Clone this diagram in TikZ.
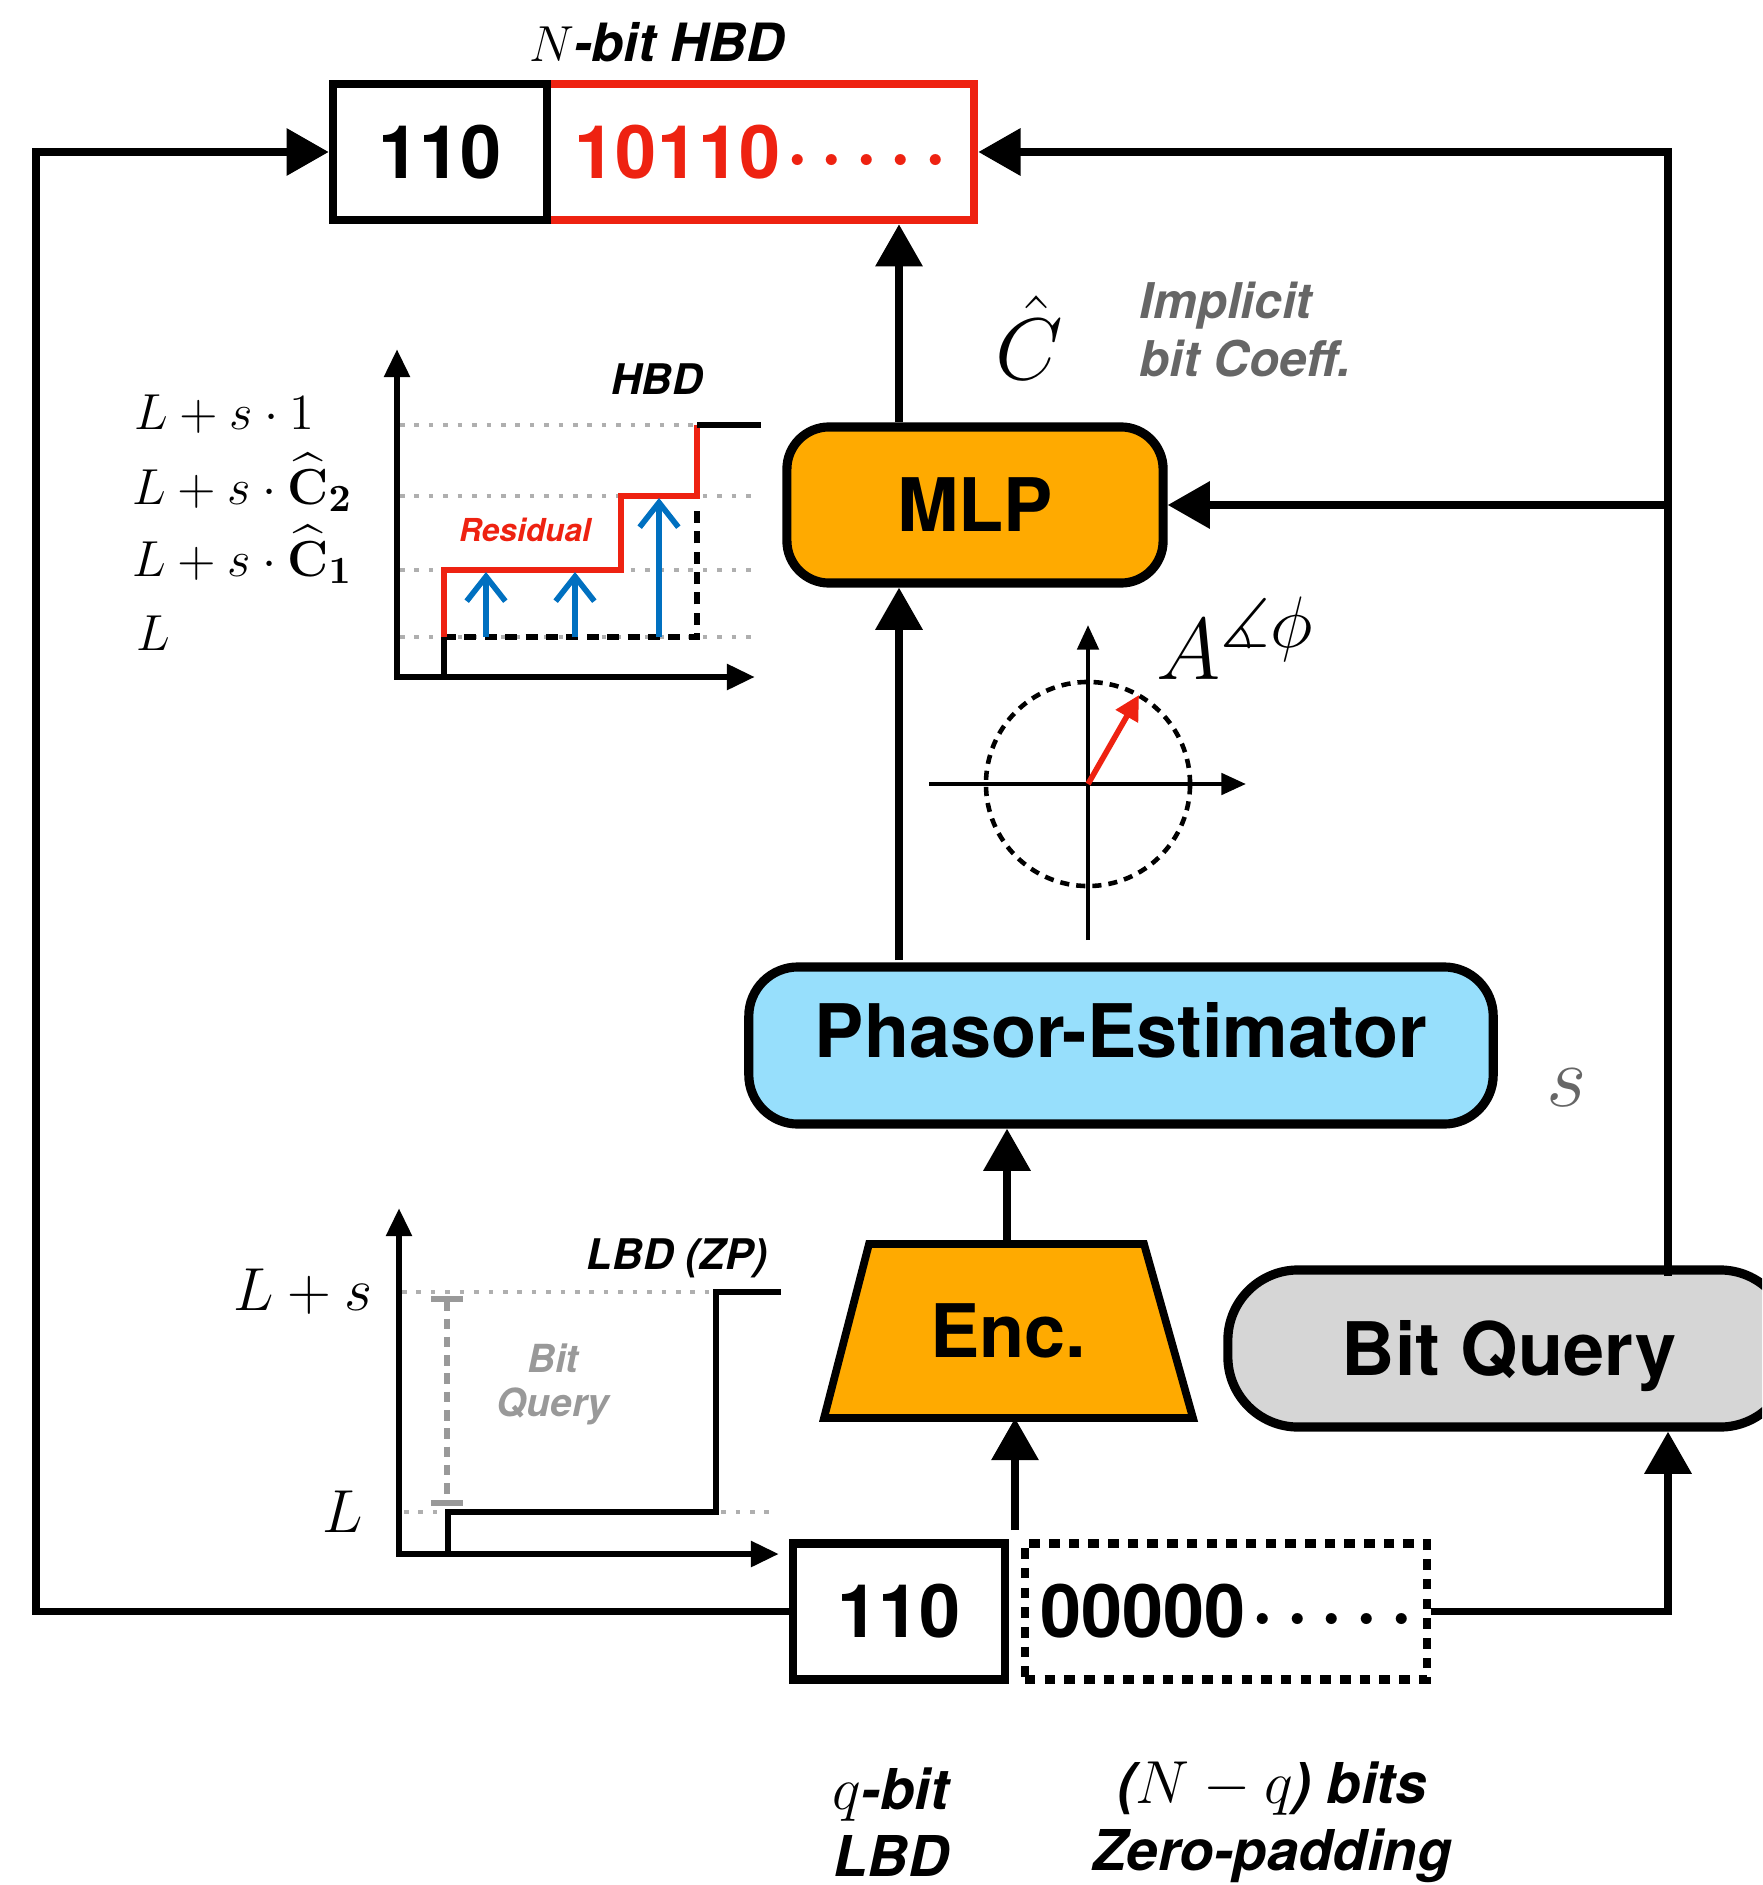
\documentclass[tikz,border=0pt]{standalone}
\usepackage{amsmath,amssymb}
\usepackage[no-math]{fontspec}
\setmainfont{TeX Gyre Heros}
\usetikzlibrary{arrows.meta,calc}

\definecolor{encorange}{RGB}{255,170,0}
\definecolor{phasorblue}{RGB}{151,223,252}
\definecolor{querygray}{RGB}{214,214,214}
\definecolor{hbdred}{RGB}{238,34,17}
\definecolor{stepblue}{RGB}{0,112,192}
\definecolor{labelgray}{RGB}{102,102,102}
\definecolor{lightlabel}{RGB}{153,153,153}
\definecolor{gridgray}{RGB}{175,175,175}

\newcommand{\bitdots}{\kern2pt\textperiodcentered\kern4pt\textperiodcentered\kern4pt\textperiodcentered\kern4pt\textperiodcentered\kern4pt\textperiodcentered}

\tikzset{
  flow/.style={line width=2.2pt, -{Triangle[length=12pt,width=13pt]}},
  axis/.style={line width=1.9pt, {Triangle[length=8pt,width=7pt]}-{Triangle[length=8pt,width=7pt]}},
  gridline/.style={gridgray, line width=1.2pt, dash pattern=on 1.3pt off 2.8pt},
  bitbox/.style={draw, line width=2.4pt, minimum height=1.36cm, inner sep=0pt,
    font=\fontsize{21}{25}\selectfont\bfseries},
  padbox/.style={bitbox, dash pattern=on 3pt off 2.6pt},
  blocktext/.style={font=\fontsize{21}{25}\selectfont\bfseries},
  mlpbox/.style={blocktext, draw, line width=2.6pt, fill=encorange, rounded corners=12pt,
    minimum width=3.76cm, minimum height=1.56cm},
  phasorbox/.style={blocktext, draw, line width=2.6pt, fill=phasorblue, rounded corners=14pt,
    minimum width=7.44cm, minimum height=1.57cm, text depth=9pt},
  querybox/.style={blocktext, draw, line width=2.6pt, fill=querygray, rounded corners=20pt,
    minimum width=5.62cm, minimum height=1.57cm, text height=20pt, text depth=4.4pt},
  encbox/.style={draw, line width=2.2pt, fill=encorange, line join=miter},
  stepdash/.style={line width=1.9pt, dash pattern=on 3.4pt off 2.4pt},
  residual/.style={stepblue, line width=1.6pt, -{Straight Barb[length=7pt,width=11pt]}},
  querybar/.style={lightlabel, line width=1.6pt, dash pattern=on 3pt off 2.2pt,
    {Bar[width=9pt]}-{Bar[width=9pt]}},
  plotlabel/.style={font=\fontsize{12}{14}\selectfont\bfseries\itshape},
  mathlabel/.style={font=\fontsize{15}{18}\selectfont, anchor=base west, inner sep=0pt}
}

\begin{document}
\begin{tikzpicture}[x=0.01cm, y=-0.01cm]
  \useasboundingbox (0,0) rectangle (1762,1885);
  \clip (0,0) rectangle (1762,1885);

  % Columns used by the connectors
  \coordinate (lft) at (36,0);
  \coordinate (col) at (899,0);
  \coordinate (rgt) at (1668,0);

  % N-bit HBD output
  \node[bitbox, draw=hbdred, text=hbdred, minimum width=4.27cm] (hbdr) at (760.5,152) {10110\bitdots};
  \node[bitbox, minimum width=2.14cm] (hbdq) at (440,152) {110};
  \node[font=\fontsize{15}{18}\selectfont\bfseries\itshape] (ntitle) at (657,42) {\(N\)-bit HBD};

  % Blocks
  \node[mlpbox] (mlp) at (975,505) {MLP};
  \node[phasorbox] (phasor) at (1121,1045.5) {Phasor-Estimator};
  \node[querybox] (bitq) at (1509,1348.5) {Bit Query};
  \draw[encbox] (869,1244) -- (1144,1244) -- (1193,1418) -- (824,1418) -- cycle;
  \node[blocktext] (enc) at (1008,1331) {Enc.};
  \coordinate (enctop) at (1007,1244);
  \coordinate (encbot) at (1015,1418);

  % q-bit LBD and zero padding
  \node[bitbox, minimum width=2.12cm] (lbdq) at (899,1611.5) {110};
  \node[padbox, minimum width=4.02cm] (zpad) at (1226,1611.5) {00000\bitdots};

  % Connectors
  \coordinate (qtop) at (1668,1276);
  \coordinate (phtop) at (899,960);
  \coordinate (jn) at (1015,1530);
  \draw[flow] (lbdq.west) -- (lbdq.west -| lft) |- (hbdq.west);
  \draw[flow] (zpad.east) -| (rgt |- bitq.south);
  \draw[flow] (qtop) |- (hbdr.east);
  \draw[flow] (rgt |- mlp.east) -- (mlp.east);
  \draw[flow] (col |- mlp.north) -- (col |- hbdr.south);
  \draw[flow] (phtop) -- (col |- mlp.south);
  \draw[flow] (enctop) -- (enctop |- phasor.south);
  \draw[flow] (jn) -- (encbot);

  % Labels around the blocks
  \node[font=\fontsize{30}{32}\selectfont, anchor=base, inner sep=0pt] (chat) at (1029,379) {\(\hat{C}\)};
  \node[font=\fontsize{14}{16.5}\selectfont\bfseries\itshape, text=labelgray, align=left, anchor=west, inner sep=0pt] (coeff) at (1139,330) {Implicit\\bit Coeff.};
  \node[font=\fontsize{30}{32}\selectfont, text=labelgray, anchor=base] (sgain) at (1567,1106) {\(s\)};
  \node[font=\fontsize{16}{19}\selectfont\bfseries\itshape, align=center] (qlbl) at (891,1822) {\(q\)-bit\\LBD};
  \node[font=\fontsize{16}{19}\selectfont\bfseries\itshape, align=center] (zlbl) at (1272,1822) {(\(N-q\)) bits\\Zero-padding};

  % Phasor
  \coordinate (pc) at (1088,784);
  \draw[line width=1.3pt, dash pattern=on 2.6pt off 2pt] (pc) circle [radius=1.02cm];
  \draw[line width=1.3pt, -{Triangle[length=7pt,width=6pt]}] (929,784) -- (1246,784);
  \draw[line width=1.3pt, -{Triangle[length=7pt,width=6pt]}] (1088,940) -- (1088,625);
  \draw[hbdred, line width=1.6pt, -{Triangle[length=7pt,width=7pt]}] (pc) -- (1139,695);
  \node[font=\fontsize{28}{30}\selectfont, anchor=base west, inner sep=0pt] (amp) at (1156,679) {\(A^{\measuredangle\phi}\)};

  % HBD plot
  \draw[axis] (397,349) -- (397,677) -- (755,677);
  \draw[gridline] (400,425) -- (697,425);
  \foreach \y in {496,570,637} {
    \draw[gridline] (400,\y) -- (755,\y);
  }
  \draw[line width=1.8pt] (444,677) -- (444,637);
  \draw[stepdash] (444,637) -- (697,637) -- (697,505);
  \draw[hbdred, line width=1.9pt] (444,637) -- (444,570) -- (621,570) -- (621,496) -- (697,496) -- (697,425);
  \draw[line width=1.9pt] (697,425) -- (761,425);
  \foreach \x/\y in {486/572, 575/572, 659/498} {
    \draw[residual] (\x,637) -- (\x,\y);
  }
  \node[plotlabel] (hbdlbl) at (657,379) {HBD};
  \node[font=\fontsize{9}{11}\selectfont\bfseries\itshape, text=hbdred] (reslbl) at (525,530) {Residual};
  \node[mathlabel] (lvlone) at (134,429) {\(L+s\cdot 1\)};
  \node[mathlabel] (lvlctwo) at (132,504) {\(L+s\cdot\widehat{\mathbf{C}}_{\mathbf{2}}\)};
  \node[mathlabel] (lvlcone) at (132,576) {\(L+s\cdot\widehat{\mathbf{C}}_{\mathbf{1}}\)};
  \node[mathlabel] (lvlzero) at (136,650) {\(L\)};

  % LBD (ZP) plot
  \draw[axis] (399,1208) -- (399,1554) -- (779,1554);
  \draw[gridline] (402,1292) -- (781,1292);
  \draw[gridline] (404,1512) -- (770,1512);
  \draw[line width=1.8pt] (448,1554) -- (448,1512) -- (716,1512) -- (716,1292) -- (781,1292);
  \draw[querybar] (447,1296) -- (447,1506);
  \node[plotlabel] (lbdlbl) at (677,1258) {LBD (ZP)};
  \node[font=\fontsize{11}{12.5}\selectfont\bfseries\itshape, text=lightlabel, align=center] (bqlbl) at (553,1384) {Bit\\Query};
  \node[font=\fontsize{17.5}{20}\selectfont, anchor=base east, inner sep=0pt] (lpls) at (373,1310) {\(L+s\)};
  \node[font=\fontsize{17.5}{20}\selectfont, anchor=base east, inner sep=0pt] (lbase) at (364,1532) {\(L\)};
\end{tikzpicture}
\end{document}
